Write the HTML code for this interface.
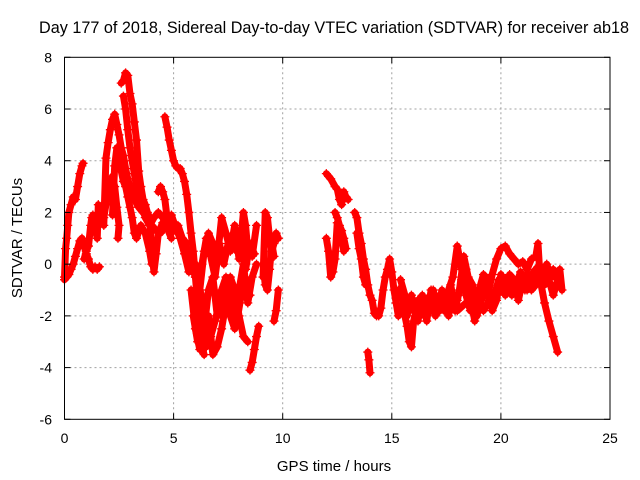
<!DOCTYPE html>
<html><head><meta charset="utf-8"><style>
html,body{margin:0;padding:0;background:#fff;}
svg{display:block;font-family:"Liberation Sans",sans-serif;}
</style></head><body>
<svg id="chart" width="640" height="480" viewBox="0 0 640 480">
<text x="334" y="33" font-size="16.2" text-anchor="middle" fill="#000">Day 177 of 2018, Sidereal Day-to-day VTEC variation (SDTVAR) for receiver ab18</text>
<g id="grid"></g>
<g id="series"></g>
<rect x="64.5" y="57.3" width="545.5" height="362" fill="none" stroke="#000" stroke-width="1"/>
<g id="ticks"></g>
<text x="334" y="471" font-size="15" text-anchor="middle">GPS time / hours</text>
<text x="22" y="238" font-size="15" text-anchor="middle" transform="rotate(-90 22 238)">SDTVAR / TECUs</text>
</svg>
<script>
const xTicks=[0,5,10,15,20,25];
const yTicks=[-6,-4,-2,0,2,4,6,8];
const trackA=[[0,-0.5],[0.05,0.6],[0.1,1.0],[0.15,1.5],[0.2,2.0],[0.3,2.3],[0.4,2.6],[0.5,2.5],[0.6,3.0],[0.7,3.5],[0.8,3.8],[0.85,3.9]];
const trackB=[[0,-0.6],[0.1,-0.5],[0.2,-0.4],[0.3,-0.2],[0.4,0],[0.5,0.3],[0.6,0.6],[0.7,0.9],[0.8,1.0],[0.9,0.7],[1.0,0.4],[1.1,0.2],[1.2,-0.1],[1.3,-0.2],[1.4,-0.1],[1.5,-0.2],[1.6,-0.1]];
const trackB2=[[0.9,0.2],[1.0,0.5],[1.1,0.7],[1.2,1.5],[1.25,1.8],[1.3,1.9],[1.5,1.0],[1.55,2.3]];
const trackC=[[1.8,1.5],[1.9,4.1],[2.0,4.7],[2.1,5.2],[2.2,5.6],[2.3,5.8],[2.4,5.4],[2.5,5.0],[2.6,4.5],[2.7,4.2],[2.8,3.7],[2.9,3.3],[3.0,3.0],[3.2,2.5],[3.4,2.2],[3.6,2.0],[3.8,1.8],[4.0,1.5],[4.2,1.3],[4.4,1.2],[4.6,1.5],[4.8,1.8],[5.0,1.6],[5.2,1.3],[5.4,1.0],[5.6,0.6],[5.8,0.0],[6.0,-0.5],[6.2,-1.0],[6.4,-1.5]];
const trackD=[[1.7,1.6],[1.8,1.8],[1.9,2.3],[2.0,2.8],[2.1,3.1],[2.2,3.4],[2.3,3.0],[2.4,2.2],[2.5,1.5],[2.45,1.0]];
const trackE=[[2.6,7.0],[2.7,7.1],[2.8,7.4],[2.9,7.3],[3.0,6.6],[3.1,6.2],[3.2,5.5],[3.3,4.8],[3.4,3.6],[3.5,3.0],[3.6,2.5],[3.7,2.3],[3.8,2.0],[3.9,1.8],[4.0,0.5],[4.1,-0.3],[4.2,0.4],[4.3,1.2],[4.5,1.6],[4.7,1.4],[4.9,1.0]];
const trackE2=[[2.7,6.5],[2.8,6.0],[2.9,5.2],[3.0,4.5],[3.1,4.0],[3.2,3.5],[3.3,3.0],[3.5,2.4],[3.7,1.8],[3.9,1.5],[4.1,1.8],[4.3,2.0],[4.5,1.8],[4.7,1.5],[4.9,1.9],[5.1,1.4],[5.3,1.0],[5.5,0.4],[5.7,-0.3]];
const trackF=[[2.2,1.9],[2.3,3.8],[2.4,4.5],[2.5,4.2],[2.6,3.6],[2.7,3.2],[2.8,3.0],[2.9,2.6],[3.0,2.2],[3.1,1.8],[3.2,1.2],[3.3,1.0],[3.5,1.5],[3.7,1.2],[3.9,0.5],[4.0,0.0]];
const trackG=[[4.6,5.7],[4.7,5.3],[4.8,4.8],[4.9,4.4],[5.0,4.0],[5.1,3.8],[5.2,3.7],[5.3,3.7],[5.4,3.5],[5.5,3.2],[5.6,2.7],[5.7,2.0],[5.8,1.2],[5.9,0.5],[6.0,-0.5],[6.1,-1.5],[6.2,-2.5],[6.3,-3.2],[6.4,-3.5]];
const trackH=[[4.3,2.8],[4.4,3.0],[4.5,2.8],[4.6,2.5],[4.7,1.8],[4.8,1.5],[4.9,1.2],[5.0,1.4],[5.2,1.5],[5.4,1.0],[5.6,0.8]];
const trackI=[[5.8,-1.0],[6.0,-2.5],[6.2,-3.3],[6.4,-3.0],[6.6,-2.0],[6.8,-3.5],[7.0,-3.2],[7.2,-2.5],[7.4,-1.5],[7.6,-0.5],[7.8,-1.0],[8.0,-2.0],[8.2,-2.8],[8.4,-3.0]];
const trackI2=[[5.9,-2.0],[6.1,-3.0],[6.3,-2.4],[6.5,-3.2],[6.7,-2.8],[6.9,-2.2],[7.1,-1.5],[7.3,-2.0],[7.5,-1.0],[7.7,-1.6],[7.9,-2.2],[8.1,-1.2],[8.3,-0.8],[8.5,-1.2]];
const trackJ=[[6.0,0],[6.2,-1],[6.4,0.5],[6.6,1.2],[6.8,0.8],[7.0,0.2],[7.2,1.8],[7.4,1.2],[7.6,0.5],[7.8,1.5],[8.0,0.2],[8.2,2.0],[8.3,1.5],[8.4,0.5],[8.6,0.3],[8.8,1.5]];
const trackJ2=[[6.1,-0.5],[6.3,0.0],[6.5,1.0],[6.7,0.3],[6.9,-0.5],[7.1,0.8],[7.3,0.0],[7.5,0.8],[7.7,1.0],[7.9,0.5],[8.1,1.2],[8.3,-0.2],[8.5,0.8],[8.7,0.4]];
const trackK=[[6.0,-2],[6.2,-1.5],[6.4,-2.5],[6.6,-1.0],[6.8,-0.5],[7.0,-2.0],[7.2,-1.0],[7.4,-0.5],[7.6,-2.0],[7.8,-2.5],[8.0,-1.0],[8.2,0],[8.4,-1.5],[8.6,-0.5],[8.8,0]];
const trackL=[[8.5,-4.1],[8.6,-3.8],[8.7,-3.3],[8.8,-2.8],[8.9,-2.4]];
const trackM=[[9.1,-0.5],[9.2,2.0],[9.3,1.8],[9.4,1.0],[9.5,0.5],[9.6,0.8],[9.7,1.2],[9.8,1.0]];
const trackM2=[[9.1,0],[9.2,-0.8],[9.3,-1.0],[9.4,-0.2],[9.5,0.8],[9.6,0.3]];
const trackM3=[[9.6,-2.2],[9.7,-1.8],[9.8,-1.0]];
const trackN=[[12.0,3.5],[12.1,3.4],[12.2,3.3],[12.4,3.0],[12.5,2.9],[12.6,2.5],[12.7,2.3],[12.8,2.8],[12.9,2.6],[13.0,2.5]];
const trackN2=[[12.0,1.0],[12.1,0.5],[12.2,-0.5],[12.3,-0.3],[12.4,0.2],[12.5,1.6],[12.6,1.3],[12.7,1.0],[12.8,0.5]];
const trackN3=[[12.4,2.0],[12.5,1.8],[12.6,1.5],[12.7,1.3],[12.8,1.0],[12.9,0.6]];
const trackO=[[13.3,2.0],[13.4,1.8],[13.5,1.2],[13.6,0.8],[13.7,0.2],[13.8,-0.2],[13.9,-0.8],[14.0,-1.2],[14.1,-1.4],[14.2,-1.9],[14.3,-2.0]];
const trackO3=[[13.4,1.2],[13.5,0.6],[13.6,0.2],[13.7,-0.5],[13.8,-0.8]];
const trackO2=[[13.9,-3.4],[13.95,-3.7],[14.0,-4.2]];
const trackP=[[14.4,-2.0],[14.5,-1.7],[14.6,-1.0],[14.7,-0.5],[14.8,-0.2],[14.9,0.2],[15.0,-0.3],[15.1,-1.0],[15.2,-1.5],[15.3,-2.0],[15.5,-1.6],[15.7,-2.4],[15.8,-3.0],[15.9,-3.2],[16.0,-2.2],[16.2,-1.5],[16.4,-1.8],[16.6,-1.4],[16.8,-1.8],[17.0,-1.6],[17.2,-1.2],[17.4,-1.8],[17.6,-1.0],[17.8,-0.5],[18.0,0.7],[18.2,-0.2],[18.4,-1.2],[18.6,-1.8],[18.8,-1.0],[19.0,-1.4],[19.2,-0.8],[19.4,-1.2],[19.6,-0.4],[19.8,0.2],[20.0,0.6],[20.2,0.7],[20.4,0.4],[20.6,0.2],[20.8,0.0],[21.0,0.1],[21.2,-0.2],[21.4,0.2],[21.6,0.3],[21.7,0.8],[21.8,-0.6],[22.0,-1.5],[22.2,-2.2],[22.4,-2.8],[22.6,-3.4]];
const trackP2=[[15.3,-1.0],[15.5,-1.4],[15.7,-2.0],[15.9,-1.2],[16.1,-2.0],[16.3,-1.3],[16.5,-2.0],[16.7,-1.5],[16.9,-1.0],[17.1,-1.8],[17.3,-1.0],[17.5,-1.4],[17.7,-0.8],[17.9,-1.8],[18.1,-1.0],[18.3,0.3],[18.5,-0.5],[18.7,-0.8],[18.9,-2.0],[19.1,-1.4],[19.3,-0.8],[19.5,-1.6],[19.7,-1.2],[19.9,-0.6],[20.1,-0.8],[20.3,-0.5],[20.5,-1.2],[20.7,-0.8],[20.9,-0.3],[21.1,-1.0],[21.3,-0.6],[21.5,-0.3],[21.7,-0.1],[21.9,-0.3],[22.1,0.0],[22.3,-0.5],[22.5,-0.4],[22.7,-0.2],[22.8,-1.0]];
const trackP3=[[16.0,-1.8],[16.4,-1.5],[16.8,-1.2],[17.2,-1.8],[17.6,-1.5],[18.0,-1.8],[18.4,-1.5],[18.8,-1.2],[19.2,-1.8],[19.6,-1.2],[20.0,-1.0],[20.4,-1.0],[20.8,-0.9],[21.2,-1.0],[21.6,-0.6],[22.0,-0.4],[22.4,-0.2]];
const trackP4=[[15.4,-0.6],[15.6,-1.2],[15.8,-1.8],[16.0,-1.4],[16.2,-2.2],[16.4,-1.2],[16.6,-2.2],[16.8,-1.0],[17.0,-2.0],[17.2,-1.5],[17.4,-1.2],[17.6,-2.0],[17.8,-1.2],[18.0,-1.4],[18.2,-0.6],[18.4,-0.2],[18.6,-1.2],[18.8,-2.2],[19.0,-1.0],[19.2,-0.4],[19.4,-0.6],[19.6,-1.8],[19.8,-1.4],[20.0,-0.4],[20.2,-1.2],[20.4,-0.4],[20.6,-0.6],[20.8,-1.4],[21.0,-0.6],[21.2,-0.4],[21.4,-1.0],[21.6,-0.8],[21.8,-0.2],[22.0,-0.8],[22.2,-0.6],[22.4,-1.2],[22.6,-0.6]];
const tracks=[trackA,trackB,trackB2,trackC,trackD,trackE,trackE2,trackF,trackG,trackH,trackI,trackI2,trackJ,trackJ2,trackK,trackL,trackM,trackM2,trackM3,trackN,trackN2,trackN3,trackO,trackO3,trackO2,trackP,trackP2,trackP3,trackP4];

const X0=64.5,X1=610,Y0=419.3,Y1=57.3;
const xs=t=>X0+(t-0)/(25-0)*(X1-X0);
const ys=v=>Y0-(v+6)/(8+6)*(Y0-Y1);
const NS='http://www.w3.org/2000/svg';
const grid=document.getElementById('grid'),ticks=document.getElementById('ticks'),series=document.getElementById('series');
function mk(tag,attrs,parent){const e=document.createElementNS(NS,tag);for(const k in attrs)e.setAttribute(k,attrs[k]);parent.appendChild(e);return e;}
xTicks.forEach(t=>{const x=xs(t);
 if(t>0&&t<25){const g=mk('line',{x1:x,x2:x,y1:Y1,y2:Y0,stroke:'#a0a0a0','stroke-dasharray':'2,3'},grid);
 
 }
 const a=mk('line',{x1:x,x2:x,y1:Y0,y2:Y0-6,stroke:'#000'},ticks);
 
 
 const b=mk('line',{x1:x,x2:x,y1:Y1,y2:Y1+6,stroke:'#000'},ticks);
 
 
 const l=mk('text',{x:x,y:443,'font-size':14,'text-anchor':'middle'},ticks);l.textContent=t;
 
 });
yTicks.forEach(v=>{const y=ys(v);
 if(v>-6&&v<8){const g=mk('line',{x1:X0,x2:X1,y1:y,y2:y,stroke:'#a0a0a0','stroke-dasharray':'2,3'},grid);
 
 }
 const a=mk('line',{x1:X0,x2:X0+6,y1:y,y2:y,stroke:'#000'},ticks);
 
 
 const b=mk('line',{x1:X1,x2:X1-6,y1:y,y2:y,stroke:'#000'},ticks);
 
 
 const l=mk('text',{x:52,y:y+5,'font-size':14,'text-anchor':'end'},ticks);l.textContent=v;
 
 });
tracks.forEach((tr,i)=>{
 const pl=mk('polyline',{points:tr.map(p=>xs(p[0])+','+ys(p[1])).join(' '),fill:'none',stroke:'#ff0000','stroke-width':7,'stroke-linejoin':'round','stroke-linecap':'round'},series);
 
 
 let d='';tr.forEach(p=>{const x=xs(p[0]),y=ys(p[1]);d+=`M${x-4.5},${y}h9M${x},${y-4.5}v9`;});
 const pm=mk('path',{d:d,stroke:'#ff0000','stroke-width':1.3,fill:'none'},series);
 
 });
</script>
</body></html>
